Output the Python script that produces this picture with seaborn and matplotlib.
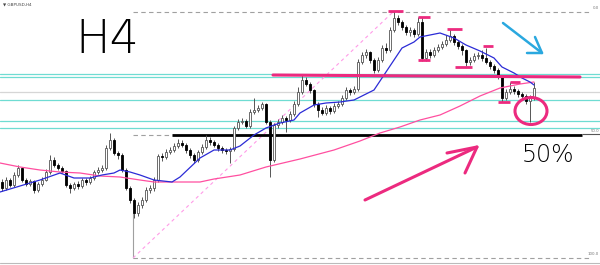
import numpy as np
import pandas as pd
import matplotlib
matplotlib.use("Agg")
import matplotlib.pyplot as plt
from matplotlib.patches import Ellipse
import seaborn as sns

sns.set_theme(style="white")
plt.rcParams["font.family"] = ["DejaVu Sans"]

# ---------------- data (GBPUSD H4, price in chart units) ----------------
opens = [83, 77, 85, 80, 90, 97, 85, 81, 84, 75, 81, 85, 93, 105, 100,
         97, 94, 80, 77, 81, 79, 85, 83, 87, 93, 95, 97, 117, 125, 112,
         110, 95, 77, 65, 52, 60, 65, 75, 77, 85, 109, 108, 113, 115, 119,
         122, 120, 115, 110, 105, 113, 118, 125, 123, 120, 117, 115, 114, 116, 137,
         143, 144, 139, 153, 155, 157, 161, 143, 105, 140, 143, 147, 145, 151, 161,
         173, 185, 181, 175, 161, 155, 152, 157, 154, 159, 161, 167, 175, 173, 176,
         203, 210, 213, 205, 195, 205, 217, 215, 235, 247, 243, 238, 233, 235, 231,
         243, 207, 213, 210, 215, 218, 221, 225, 229, 223, 219, 215, 203, 205, 209,
         210, 207, 203, 199, 195, 189, 167, 173, 176, 174, 171, 169, 164, 167]
closes = [77, 85, 80, 90, 97, 85, 81, 84, 75, 81, 85, 93, 105, 100, 97,
          94, 80, 77, 81, 79, 85, 83, 87, 93, 95, 97, 117, 125, 112, 110,
          95, 77, 65, 52, 60, 65, 75, 77, 85, 109, 108, 113, 115, 119, 122,
          120, 115, 110, 105, 113, 118, 125, 123, 120, 117, 115, 114, 116, 137, 143,
          144, 139, 153, 155, 157, 161, 143, 105, 140, 143, 147, 145, 151, 161, 173,
          185, 181, 175, 161, 155, 152, 157, 154, 159, 161, 167, 175, 173, 176, 203,
          210, 213, 205, 195, 205, 217, 215, 235, 247, 243, 238, 233, 235, 231, 243,
          207, 213, 210, 215, 218, 221, 225, 229, 223, 219, 215, 203, 205, 209, 210,
          207, 203, 199, 195, 189, 167, 173, 176, 174, 171, 169, 164, 167, 177]
highs = [86, 88, 87, 93, 100, 98, 87, 86, 85, 83, 88, 96, 110, 108, 102,
         99, 95, 82, 83, 84, 87, 87, 89, 95, 98, 100, 120, 132, 127, 114,
         112, 97, 79, 67, 63, 68, 78, 80, 88, 111, 112, 116, 118, 122, 126,
         125, 122, 117, 112, 115, 121, 130, 128, 125, 122, 119, 117, 118, 139, 146,
         147, 146, 156, 167, 160, 163, 162, 145, 142, 146, 150, 149, 154, 164, 178,
         190, 188, 183, 176, 163, 158, 160, 159, 162, 164, 170, 178, 177, 179, 206,
         213, 216, 214, 207, 208, 220, 222, 238, 254, 250, 245, 240, 238, 237, 248,
         248, 216, 216, 218, 221, 224, 230, 236, 231, 225, 221, 216, 208, 212, 213,
         215, 217, 205, 201, 197, 190, 176, 183, 179, 176, 173, 171, 170, 183]
lows = [74, 75, 78, 78, 88, 83, 79, 79, 72, 73, 79, 84, 91, 98, 95,
        92, 78, 72, 75, 76, 77, 80, 81, 85, 91, 93, 95, 115, 110, 106,
        93, 75, 62, 47, 49, 57, 63, 72, 74, 83, 104, 106, 111, 113, 117,
        118, 112, 107, 102, 103, 111, 116, 120, 118, 114, 112, 111, 102, 114, 135,
        141, 137, 137, 151, 153, 155, 141, 88, 103, 137, 141, 133, 143, 149, 159,
        171, 179, 172, 158, 148, 150, 150, 151, 152, 157, 159, 165, 170, 171, 174,
        201, 207, 202, 192, 193, 203, 212, 213, 233, 240, 235, 230, 229, 228, 229,
        204, 204, 207, 208, 213, 216, 219, 223, 220, 216, 210, 199, 200, 203, 206,
        204, 201, 196, 192, 186, 163, 165, 171, 171, 168, 166, 161, 143, 165]

# moving averages (candle position, value)
ma_fast_pos = [-0.5, 4.5, 9.5, 14.5, 18, 22, 25, 28, 29.5, 32, 34.5, 38, 42.5, 44.5,
               49.5, 53, 57, 59.5, 63, 66, 69.5, 73, 74.5, 78, 81, 84.5, 88, 89.5,
               93, 95, 98, 100, 103, 104.5, 109.5, 113, 116, 119.5, 123, 125, 128,
               130, 132, 133]
ma_fast_val = [73, 79, 85, 92, 87, 87, 90, 92, 95, 93, 90, 85, 83, 88,
               107, 115, 115, 119, 130, 137, 142, 145, 152, 160, 162, 163, 165, 168,
               175, 187, 205, 217, 223, 228, 232, 227, 220, 214, 207, 198, 192,
               187, 183, 180]
ma_slow_pos = [-0.5, 4.5, 9.5, 14.5, 19.5, 24.5, 29.5, 34.5, 38, 49.5, 53, 59.5, 66,
               74.5, 83, 89.5, 94.5, 99.5, 104.5, 109.5, 114.5, 119.5, 124.5, 129.5, 133]
ma_slow_val = [102, 98, 95, 93, 92, 89, 88, 85, 83, 83, 86, 90, 98,
               106, 115, 124, 132, 138, 145, 150, 159, 169, 177, 181, 183]

# horizontal levels
cyan_levels = [191, 188, 165, 144, 137]
grey_level = 173
fib_levels = [253, 130, 7]
fib_labels = ["0.0", "50.0", "100.0"]
resistance = [190, 188]
# short swing marks: (start, end, level)
mark_start = [96.5, 104, 104, 111.25, 113.25, 120.25, 127, 124]
mark_end = [100.25, 107, 107, 115, 117.5, 122.75, 129.5, 127]
mark_level = [254, 248, 205, 236, 198, 219, 183, 163]

PINK = "#ec2a7f"
CYAN = "#6fdcd2"

# ---------------- figure ----------------
fig = plt.figure(figsize=(6, 2.65), dpi=100)
ax = fig.add_axes([0, 0, 1, 1])
ax.set_xlim(-0.5, 149.5)
ax.set_ylim(0, 265)
ax.axis("off")

idx = np.arange(len(closes))
o = np.array(opens, float)
c = np.array(closes, float)
h = np.array(highs, float)
l = np.array(lows, float)

# level lines
for lv in cyan_levels:
    ax.axhline(lv, color=CYAN, lw=0.9, zorder=1)
ax.axhline(grey_level, color="#d6d6d6", lw=0.9, zorder=1)
ax.axhline(2, color="#bbbbbb", lw=0.8, zorder=1)

fx0 = 32.75
ax.hlines(fib_levels[0], fx0, 147, color="#a0a0a0", lw=0.8, ls=(0, (4, 3)), zorder=1)
ax.hlines(fib_levels[2], fx0, 147, color="#a0a0a0", lw=0.8, ls=(0, (4, 3)), zorder=1)
ax.hlines(fib_levels[1], fx0, 42.5, color="#a0a0a0", lw=0.8, ls=(0, (4, 3)), zorder=1)
ax.hlines(fib_levels[1], 42.5, 145, color="black", lw=2.0, zorder=2)
ax.hlines(fib_levels[1] + 1, 145, 149.5, color="#555555", lw=0.8, zorder=2)
ax.vlines(fx0, fib_levels[2], 52, color="#a0a0a0", lw=0.8, zorder=1)
ax.plot([fx0, 97.75], [fib_levels[2], fib_levels[0]], color="#ff9be8", lw=0.8,
        ls=(0, (3, 3)), zorder=1)
for lv, lab in zip(fib_levels, fib_labels):
    ax.text(149.3, lv + 2, lab, fontsize=2.8, color="#777777", ha="right", va="bottom")

# resistance line
ax.plot([67.75, 144.5], resistance, color=PINK, lw=2.2, zorder=5)

# candles
ax.vlines(idx, l, h, color="#555555", lw=0.7, zorder=3)
bull = c >= o
bear = ~bull
ax.bar(idx[bull], np.maximum(c - o, 0.8)[bull], bottom=o[bull], width=0.55,
       color="white", edgecolor="#555555", lw=0.6, zorder=3)
ax.bar(idx[bear], np.maximum(o - c, 0.8)[bear], bottom=c[bear], width=0.55,
       color="black", edgecolor="black", lw=0.6, zorder=3)

# moving averages
sns.lineplot(x=ma_slow_pos, y=ma_slow_val, ax=ax, color="#ff4fa0", lw=0.9,
             sort=True, estimator=None, zorder=4)
sns.lineplot(x=ma_fast_pos, y=ma_fast_val, ax=ax, color="#2b2bd6", lw=0.9,
             sort=True, estimator=None, zorder=4)

# swing marks
ax.hlines(mark_level, mark_start, mark_end, color=PINK, lw=2.0, zorder=5)

# hand-drawn annotations
ax.text(26.25, 225, "H4", fontsize=33, fontweight="light", ha="center",
        va="center", color="black")
ax.text(136.5, 110, "50%", fontsize=17, fontweight="light", ha="center",
        va="center", color="black")
ax.text(0.2, 262, "\u25bc GBPUSD,H4", fontsize=3, color="#444444", ha="left", va="top")

# pink arrow
ax.plot([90.75, 118.75], [65, 118], color=PINK, lw=2.2, solid_capstyle="round", zorder=6)
ax.plot([111.25, 118.75, 115.75], [112, 118, 92], color=PINK, lw=2.2,
        solid_capstyle="round", zorder=6)
# blue arrow
ax.plot([125.25, 135], [242, 212], color="#2aa8df", lw=1.8, solid_capstyle="round", zorder=6)
ax.plot([133.25, 135, 131.25], [228, 212, 212], color="#2aa8df", lw=1.8,
        solid_capstyle="round", zorder=6)
# pink circle
ax.add_patch(Ellipse((132.25, 154), 8, 27, fill=False, edgecolor=PINK, lw=2.2, zorder=6))

fig.savefig("out.png", dpi=100)
